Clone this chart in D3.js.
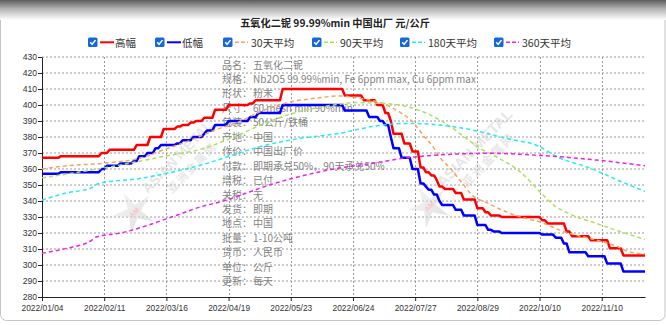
<!DOCTYPE html>
<html><head><meta charset="utf-8">
<script src="https://cdn.jsdelivr.net/npm/d3@7"></script>
<style>
html,body{margin:0;padding:0;background:#fff;}
svg{display:block;}
</style></head><body>
<svg id="chart" width="666" height="325"></svg>
<script>
// ---------------- data ----------------
const title = "五氧化二铌 99.99%min 中国出厂 元/公斤";
const dayCount = 224; // trading days on the category axis
const xTickLabels = ["2022/01/04","2022/02/11","2022/03/16","2022/04/19","2022/05/23","2022/06/24","2022/07/27","2022/08/29","2022/10/10","2022/11/10"];
const xTickDays = [0,23,46,69,92,115,138,161,184,207];
const yTickValues = [280,290,300,310,320,330,340,350,360,370,380,390,400,410,420,430];
const seriesNames = ["高幅","低幅","30天平均","90天平均","180天平均","360天平均"];
const seriesColors = ["#ff0000","#0000ff","#f4a460","#aee05a","#22eeee","#f01ff0"];

// price change points [day, value]
const highSteps = [[0,367],[7,368],[22,370],[25,372],[35,375],[40,380],[45,385],[50,386.5],[52,387.5],[55,389],[57,390],[60,392],[64,397],[69,400],[77,401],[79,403],[89,410],[112,406],[119,403],[124,400],[127,395],[129,390],[130,382],[134,376],[137,371],[140,361],[142,358],[144,356],[146,353],[147,349],[149,347.5],[153,345],[156,341],[161,335.5],[164,333],[166,331],[170,330],[185,328],[187,326],[194,321],[196,318],[203,315.5],[210,310.5],[215,306]];
const lowSteps = [[0,357],[7,358],[22,360],[24,362],[29,363.5],[34,365],[36,368],[39,370],[42,373],[44,375],[50,376],[52,378],[56,380],[60,382],[61,384],[64,387.5],[69,390],[77,392.5],[80,395],[89,400],[112,396.5],[121,392.5],[125,390],[127,387.5],[129,380],[130,373],[133,367],[137,360],[140,351],[142,349],[143,347],[145,344],[147,340],[148,337.5],[153,334.5],[156,331],[161,325],[165,322],[167,321],[170,320],[185,319],[190,317],[193,313.5],[195,308],[202,305.5],[209,301],[215,296]];
// moving averages read at sample days [day, value]
const avg30 = [[0,360],[9,362],[22,363.5],[36,366.7],[45,372],[55,378],[65,385],[73,389.6],[81,396],[92,402],[100,404],[110,405.6],[118,404],[126,401],[132,395.8],[137,389.6],[141,381],[145,373],[147,367.7],[151,360.4],[155,352],[159,343.8],[165,338.5],[170,334.4],[177,330],[184,327],[193,320.8],[205,315.6],[213,311.4],[217,308.3],[223,307]];
const avg90 = [[0,354.5],[22,360.4],[48,368.8],[58,372],[71,380],[83,389],[95,395.8],[108,400],[116,401.5],[126,401],[135,399],[142,395],[151,386.5],[157,379],[162,373],[169,366.7],[177,358],[184,346],[190,336.5],[195,332],[205,326],[214,320.8],[223,316]];
const avg180 = [[0,340.6],[9,345],[18,348],[21,351],[36,354],[48,358],[61,363.5],[71,369],[83,375],[95,379],[110,382.3],[122,386.5],[135,388.5],[147,387.5],[159,384.4],[172,379],[184,374],[190,368],[203,360.4],[213,353],[223,346]];
const avg360 = [[0,307.3],[9,310.4],[18,315],[20,317.5],[29,320],[48,330],[58,336],[67,340],[86,351],[108,360],[122,363.5],[135,367],[147,368.8],[166,369.8],[184,368.5],[205,365.6],[223,362]];

const infoLabels = ["品名：","规格：","形状：","尺寸：","包装：","产地：","作价：","付款：","增税：","关税：","发货：","地点：","批量：","货币：","单位：","更新："];
const infoValues = ["五氧化二铌","Nb2O5 99.99%min, Fe 6ppm max, Cu 6ppm max","粉末","60 mesh min 90%min","50公斤/铁桶","中国","中国出厂价","即期承兑50%，90天承兑50%","已付","无","即期","中国","1-10公吨","人民币","公斤","每天"];

// ---------------- drawing ----------------
const svg = d3.select("#chart");
const W = 666, H = 325;
const cjk = "'Noto Sans CJK SC','Noto Sans',sans-serif";
const latin = "'Liberation Sans',Arial,sans-serif";

const defs = svg.append("defs");
const g1 = defs.append("linearGradient").attr("id","topShade").attr("x1",0).attr("y1",0).attr("x2",0).attr("y2",1);
g1.append("stop").attr("offset","0%").attr("stop-color","#5c5c5c");
g1.append("stop").attr("offset","45%").attr("stop-color","#b4b4b4");
g1.append("stop").attr("offset","100%").attr("stop-color","#ffffff");
const g2 = defs.append("linearGradient").attr("id","starG").attr("x1",0).attr("y1",0).attr("x2",1).attr("y2",1);
g2.append("stop").attr("offset","0%").attr("stop-color","#f2f2f2");
g2.append("stop").attr("offset","100%").attr("stop-color","#c9c9c9");

svg.append("rect").attr("x",0).attr("y",0).attr("width",W).attr("height",H).attr("fill","#fff");
svg.append("rect").attr("x",0.5).attr("y",-12).attr("width",W-1.5).attr("height",332.5).attr("rx",6)
  .attr("fill","#fff").attr("stroke","#c4c4c4");
svg.append("rect").attr("x",0).attr("y",0).attr("width",W).attr("height",20).attr("fill","url(#topShade)");

// title
svg.append("text").attr("x",335).attr("y",26.5).attr("text-anchor","middle")
  .attr("font-family",cjk).attr("font-size",10.2).attr("font-weight","bold").attr("fill","#222").text(title);

// legend
const legendX = [88,155,223,312,400,494];
const leg = svg.append("g");
seriesNames.forEach((name,i)=>{
  const gx = legendX[i], gy = 37.5;
  const it = leg.append("g").attr("transform",`translate(${gx},${gy})`);
  it.append("rect").attr("width",9.5).attr("height",9.5).attr("rx",1.5).attr("fill","#1467dc");
  it.append("path").attr("d","M2.2,4.8 L4.1,6.8 L7.5,2.6").attr("fill","none").attr("stroke","#fff").attr("stroke-width",1.5);
  const ln = it.append("line").attr("x1",12).attr("x2",i<2?26:25).attr("y1",4.8).attr("y2",4.8)
    .attr("stroke",seriesColors[i]).attr("stroke-width",i<2?2:1.5);
  if(i>=2) ln.attr("stroke-dasharray","4,2");
  it.append("text").attr("x",i<2?27:28).attr("y",9).attr("font-family",cjk).attr("font-size",10.5)
    .attr("fill","#333").text(name);
});

// scales
const x = d3.scaleLinear().domain([0, dayCount-1]).range([42, 645]);
const y = d3.scaleLinear().domain([280, 430]).range([297, 57]);

// grid
const grid = svg.append("g");
yTickValues.filter(v=>v>280).forEach(v=>{
  grid.append("line").attr("x1",42).attr("x2",645).attr("y1",y(v)).attr("y2",y(v))
    .attr("stroke","#9a9a9a").attr("stroke-width",1).attr("stroke-dasharray","2,2");
});
xTickDays.filter(d=>d>0).forEach(d=>{
  grid.append("line").attr("x1",Math.round(x(d))+0.5).attr("x2",Math.round(x(d))+0.5).attr("y1",57).attr("y2",297)
    .attr("stroke","#9a9a9a").attr("stroke-width",1).attr("stroke-dasharray","2,2");
});

// watermarks
function watermark(cx, cy, s){
  const w = svg.append("g").attr("opacity",0.6);
  const star = d3.range(10).map(k=>{
    const r = k%2===0 ? 22 : 7; const a = -Math.PI/2 + k*Math.PI/5 - 0.5;
    return [cx + r*Math.cos(a), cy + r*Math.sin(a)];
  });
  w.append("polygon").attr("points",star.map(p=>p.join(",")).join(" ")).attr("fill","url(#starG)");
  w.append("text").attr("x",cx).attr("y",cy+3).attr("text-anchor","middle").attr("font-family",latin)
    .attr("font-size",7).attr("font-weight","bold").attr("fill","#f3a0a0")
    .attr("transform",`rotate(-45,${cx},${cy})`).text("AM");
  w.append("text").attr("transform",`translate(${cx+14},${cy-18}) rotate(-46)`)
    .attr("font-family",latin).attr("font-size",15*s).attr("font-weight","bold").attr("fill","#d6d6d6")
    .text("ASIAN METAL");
  w.append("text").attr("transform",`translate(${cx+38},${cy-18}) rotate(-46)`)
    .attr("font-family",cjk).attr("font-size",12*s).attr("font-weight","bold").attr("fill","#d8d8d8")
    .attr("letter-spacing",2).text("亚洲金属网");
}
watermark(134, 212, 0.93);
watermark(429, 206, 1);

// info text
const info = svg.append("g").attr("font-family",cjk).attr("font-size",10).attr("fill","#838383");
infoLabels.forEach((lab,i)=>{
  const yy = 68.5 + i*14.45;
  info.append("text").attr("x",222).attr("y",yy).text(lab);
  info.append("text").attr("x",253).attr("y",yy).text(infoValues[i]);
});

// axes
const xAxis = d3.axisBottom(x).tickValues(xTickDays).tickFormat((d,i)=>xTickLabels[i]).tickSize(4).tickSizeOuter(0);
const gx = svg.append("g").attr("transform","translate(0,297)").call(xAxis);
gx.select(".domain").attr("stroke","#222");
gx.selectAll(".tick line").attr("stroke","#222");
gx.selectAll("text").attr("font-family",latin).attr("font-size",8.4).attr("fill","#333").attr("dy","0.85em");

const yAxis = d3.axisLeft(y).tickValues(yTickValues).tickSize(4).tickSizeOuter(0);
const gy = svg.append("g").attr("transform","translate(42,0)").call(yAxis);
gy.select(".domain").attr("stroke","#222");
gy.selectAll(".tick line").attr("stroke","#222");
gy.selectAll("text").attr("font-family",latin).attr("font-size",8.6).attr("fill","#333").attr("x",-5);

// lines
function stepPoints(changes){
  const pts = [];
  changes.forEach((d,k)=>{
    if(k>0 && d[0]-1 > changes[k-1][0]) pts.push([d[0]-1, changes[k-1][1]]);
    pts.push(d);
  });
  pts.push([dayCount-1, changes[changes.length-1][1]]);
  return pts;
}
const lineLin = d3.line().x(d=>x(d[0])).y(d=>y(d[1])).curve(d3.curveLinear);
const lineSmooth = d3.line().x(d=>x(d[0])).y(d=>y(d[1])).curve(d3.curveMonotoneX);

const plot = svg.append("g");
const series = [
  {data: stepPoints(highSteps), line: lineLin, w: 2.5, dash: null},
  {data: stepPoints(lowSteps), line: lineLin, w: 2.5, dash: null},
  {data: avg30, line: lineSmooth, w: 1.5, dash: "4,3"},
  {data: avg90, line: lineSmooth, w: 1.5, dash: "4,3"},
  {data: avg180, line: lineSmooth, w: 1.5, dash: "4,3"},
  {data: avg360, line: lineSmooth, w: 1.5, dash: "4,3"}
];
series.forEach((s,i)=>{
  const p = plot.append("path").attr("d", s.line(s.data)).attr("fill","none")
    .attr("stroke", seriesColors[i]).attr("stroke-width", s.w).attr("stroke-linejoin","round");
  if(s.dash) p.attr("stroke-dasharray", s.dash);
});
</script>
</body></html>
